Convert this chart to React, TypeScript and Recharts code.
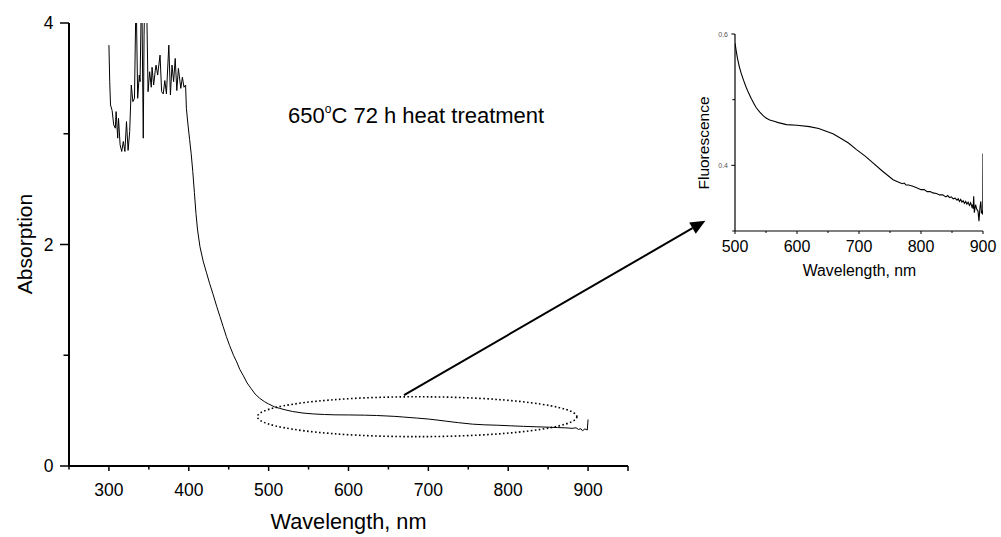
import React from 'react';
import { LineChart, Line, XAxis, YAxis, ReferenceArea, ReferenceLine } from 'recharts';

const FONT = '"Liberation Sans", Arial, Helvetica, sans-serif';

// ---- main spectrum (absorption) ----
const mainWavelength = [
  300, 301, 302, 304, 306, 308, 309, 311, 312, 314, 316, 318, 320, 322, 324, 326, 328, 330, 332, 334,
  336, 338, 339, 341, 343, 344, 345, 347, 349, 351, 353, 354, 356, 358, 359, 361, 364, 366, 368, 370,
  372, 375, 377, 379, 381, 383, 385, 387, 390, 392, 394, 396, 397, 399, 401, 403, 405, 407, 409, 411,
  414, 418, 422, 426, 430, 435, 439, 443, 447, 451, 456, 460, 464, 468, 473, 478, 483, 489, 495, 500,
  507, 514, 522, 530, 543, 556, 570, 583, 600, 620, 635, 647, 658, 669, 685, 700, 712, 723, 738, 755,
  770, 787, 803, 819, 835, 852, 862, 870, 875, 880, 885, 888, 891, 893, 896, 899, 900,
];
const mainAbsorption = [
  3.8, 3.47, 3.26, 3.21, 3.08, 3.05, 3.2, 2.96, 3.14, 2.9, 2.84, 2.93, 2.84, 3.11, 2.85, 3.02, 3.44, 3.29, 3.32, 4.3,
  3.32, 3.53, 3.47, 4.4, 2.96, 3.89, 4.3, 4.3, 3.38, 3.56, 3.42, 3.6, 3.44, 3.57, 3.62, 3.53, 3.71, 3.38, 3.36, 3.48,
  3.36, 3.8, 3.35, 3.62, 3.47, 3.68, 3.39, 3.59, 3.41, 3.51, 3.42, 3.44, 3.23, 3.08, 2.95, 2.82, 2.66, 2.47, 2.28, 2.13,
  1.98, 1.85, 1.75, 1.65, 1.56, 1.44, 1.35, 1.26, 1.17, 1.09, 1.0, 0.94, 0.87, 0.82, 0.75, 0.7, 0.65, 0.61, 0.58, 0.56,
  0.535, 0.52, 0.505, 0.492, 0.478, 0.47, 0.465, 0.462, 0.461, 0.459, 0.456, 0.452, 0.448, 0.442, 0.433, 0.424, 0.414, 0.404, 0.391, 0.378,
  0.372, 0.368, 0.363, 0.358, 0.354, 0.35, 0.347, 0.345, 0.343, 0.34, 0.345, 0.33, 0.337, 0.318, 0.335, 0.325, 0.42,
];
const mainXTicks = [250, 300, 350, 400, 450, 500, 550, 600, 650, 700, 750, 800, 850, 900, 950];
const mainXLabels = [300, 400, 500, 600, 700, 800, 900];
const mainYTicks = [0, 1, 2, 3, 4];
const mainYLabels = [0, 2, 4];

// ---- inset spectrum ----
const insetWavelength = [
  500, 502, 504, 507, 510, 514, 518, 522, 526, 530, 534, 540, 545, 550, 556, 563, 570, 583, 600, 620,
  635, 647, 658, 669, 683, 696, 710, 722, 738, 755, 765, 770, 773, 776, 780, 787, 793, 800, 805, 810,
  815, 819, 825, 830, 835, 840, 843, 846, 849, 852, 855, 858, 860, 862, 864, 866, 868, 870, 872, 874,
  876, 878, 880, 882, 883, 884, 885, 886, 888, 890, 892, 893.5, 895, 896.5, 897.5, 899, 899.6, 900,
];
const insetFluorescence = [
  0.586, 0.574, 0.563, 0.55, 0.54, 0.529, 0.519, 0.51, 0.502, 0.495, 0.488, 0.481, 0.476, 0.472, 0.469, 0.467, 0.465, 0.462, 0.461, 0.459,
  0.456, 0.452, 0.448, 0.442, 0.434, 0.424, 0.414, 0.404, 0.391, 0.378, 0.374, 0.372, 0.373, 0.37, 0.37, 0.368, 0.366, 0.363, 0.363, 0.36,
  0.36, 0.358, 0.357, 0.355, 0.355, 0.352, 0.354, 0.351, 0.352, 0.349, 0.35, 0.347, 0.349, 0.345, 0.348, 0.344, 0.346, 0.342, 0.345, 0.341,
  0.344, 0.339, 0.343, 0.337, 0.34, 0.334, 0.353, 0.328, 0.34, 0.333, 0.33, 0.315, 0.335, 0.345, 0.328, 0.33, 0.325, 0.418,
];
const insetXTicks = [500, 550, 600, 650, 700, 750, 800, 850, 900];
const insetXLabels = [500, 600, 700, 800, 900];
const insetYTicks = [0.3, 0.4, 0.5, 0.6];
const insetYLabels = [0.4, 0.6];

// ---- annotations (data units of the main chart) ----
const zoomRegion = { x1: 486, x2: 886, y1: 0.265, y2: 0.625 };
const arrowSegment = [{ x: 669.5, y: 0.64 }, { x: 1047, y: 2.215 }];

const mainData = mainWavelength.map((w, i) => ({ w, a: mainAbsorption[i] }));
const insetData = insetWavelength.map((w, i) => ({ w, f: insetFluorescence[i] }));

const MainXTick = (props: any) => {
  const { x, y, payload } = props;
  const v = payload.value;
  const major = v % 100 === 0 || v === 950;
  return (
    <g>
      <line x1={x} y1={y} x2={x} y2={y + (major ? 5 : 3.5)} stroke="#000" strokeWidth={1.5} />
      {mainXLabels.includes(v) && (
        <text x={x} y={y + 30} textAnchor="middle" fontSize={17.5} fontFamily={FONT} fill="#000">
          {v}
        </text>
      )}
    </g>
  );
};

const MainYTick = (props: any) => {
  const { x, y, payload } = props;
  const v = payload.value;
  const major = mainYLabels.includes(v);
  return (
    <g>
      <line x1={x - (major ? 9 : 5.5)} y1={y} x2={x} y2={y} stroke="#000" strokeWidth={1.5} />
      {major && (
        <text x={x - 15.5} y={y + 6} textAnchor="end" fontSize={17.5} fontFamily={FONT} fill="#000">
          {v}
        </text>
      )}
    </g>
  );
};

const InsetXTick = (props: any) => {
  const { x, y, payload } = props;
  const v = payload.value;
  const major = insetXLabels.includes(v);
  return (
    <g>
      <line x1={x} y1={y} x2={x} y2={y + (major ? 3 : 2)} stroke="#000" strokeWidth={1} />
      {major && (
        <text x={x} y={y + 20.7} textAnchor="middle" fontSize={16} fontFamily={FONT} fill="#000">
          {v}
        </text>
      )}
    </g>
  );
};

const InsetYTick = (props: any) => {
  const { x, y, payload } = props;
  const v = payload.value;
  const major = insetYLabels.includes(v);
  return (
    <g>
      <line x1={x - (major ? 3.7 : 2.7)} y1={y} x2={x} y2={y} stroke="#000" strokeWidth={1} />
      {major && (
        <text x={x - 7} y={y + 2.5} textAnchor="end" fontSize={7} fontFamily={FONT} fill="#555">
          {v.toFixed(1)}
        </text>
      )}
    </g>
  );
};

const EllipseShape = (p: any) => {
  const { x, y, width, height } = p;
  return (
    <ellipse
      cx={x + width / 2}
      cy={y + height / 2}
      rx={Math.abs(width) / 2}
      ry={Math.abs(height) / 2}
      fill="none"
      stroke="#000"
      strokeWidth={1.6}
      strokeDasharray="1.6 2.4"
    />
  );
};

const ArrowShape = (p: any) => {
  const x1 = Number(p.x1), y1 = Number(p.y1), x2 = Number(p.x2), y2 = Number(p.y2);
  const dx = x2 - x1, dy = y2 - y1;
  const len = Math.hypot(dx, dy) || 1;
  const ux = dx / len, uy = dy / len;
  const hl = 15, hw = 6.5;
  const bx = x2 - ux * hl, by = y2 - uy * hl;
  const pts = `${x2},${y2} ${bx - uy * hw},${by + ux * hw} ${bx + uy * hw},${by - ux * hw}`;
  return (
    <g>
      <line x1={x1} y1={y1} x2={bx} y2={by} stroke="#000" strokeWidth={2} />
      <polygon points={pts} fill="#000" />
    </g>
  );
};

export default function App() {
  return (
    <div style={{ position: 'absolute', left: 0, top: 0, width: 1001, height: 537, background: '#fff' }}>
      <div style={{ position: 'absolute', left: 0, top: 0 }}>
        <LineChart width={1001} height={537} data={mainData} margin={{ top: 23, right: 373, bottom: 21, left: 9 }}>
          <XAxis
            type="number"
            dataKey="w"
            domain={[250, 950]}
            ticks={mainXTicks}
            interval={0}
            allowDataOverflow
            tick={<MainXTick />}
            tickLine={false}
            tickSize={0}
            tickMargin={0}
            height={50}
            axisLine={{ stroke: '#000', strokeWidth: 2 }}
          />
          <YAxis
            type="number"
            domain={[0, 4]}
            ticks={mainYTicks}
            interval={0}
            allowDataOverflow
            tick={<MainYTick />}
            tickLine={false}
            tickSize={0}
            tickMargin={0}
            width={60}
            axisLine={{ stroke: '#000', strokeWidth: 2 }}
          />
          <ReferenceArea
            x1={zoomRegion.x1}
            x2={zoomRegion.x2}
            y1={zoomRegion.y1}
            y2={zoomRegion.y2}
            ifOverflow="visible"
            shape={EllipseShape}
          />
          <ReferenceLine segment={arrowSegment} ifOverflow="visible" shape={ArrowShape} />
          <Line
            type="linear"
            dataKey="a"
            stroke="#000"
            strokeWidth={1}
            dot={false}
            activeDot={false}
            isAnimationActive={false}
          />
          <text
            x={32}
            y={244}
            transform="rotate(-90, 32, 244)"
            textAnchor="middle"
            fontSize={21}
            fontFamily={FONT}
            fill="#000"
          >
            Absorption
          </text>
          <text x={348.5} y={529} textAnchor="middle" fontSize={21.7} fontFamily={FONT} fill="#000">
            Wavelength, nm
          </text>
          <text x={288} y={123} fontSize={22} fontFamily={FONT} fill="#000">
            650
            <tspan fontSize={12} dy={-10}>o</tspan>
            <tspan dy={10}>C 72 h heat treatment</tspan>
          </text>
        </LineChart>
      </div>
      <div style={{ position: 'absolute', left: 660, top: 0 }}>
        <LineChart width={341} height={300} data={insetData} margin={{ top: 34, right: 18, bottom: 29, left: 15 }}>
          <XAxis
            type="number"
            dataKey="w"
            domain={[500, 900]}
            ticks={insetXTicks}
            interval={0}
            allowDataOverflow
            tick={<InsetXTick />}
            tickLine={false}
            tickSize={0}
            tickMargin={0}
            height={40}
            axisLine={{ stroke: '#000', strokeWidth: 1.2 }}
          />
          <YAxis
            type="number"
            domain={[0.3, 0.6]}
            ticks={insetYTicks}
            interval={0}
            allowDataOverflow
            tick={<InsetYTick />}
            tickLine={false}
            tickSize={0}
            tickMargin={0}
            width={60}
            axisLine={{ stroke: '#000', strokeWidth: 1.2 }}
          />
          <Line
            type="linear"
            dataKey="f"
            stroke="#000"
            strokeWidth={1.1}
            dot={false}
            activeDot={false}
            isAnimationActive={false}
          />
          <text
            x={49}
            y={143}
            transform="rotate(-90, 49, 143)"
            textAnchor="middle"
            fontSize={15.5}
            fontFamily={FONT}
            fill="#000"
          >
            Fluorescence
          </text>
          <text x={199.5} y={276} textAnchor="middle" fontSize={15.8} fontFamily={FONT} fill="#000">
            Wavelength, nm
          </text>
        </LineChart>
      </div>
    </div>
  );
}
